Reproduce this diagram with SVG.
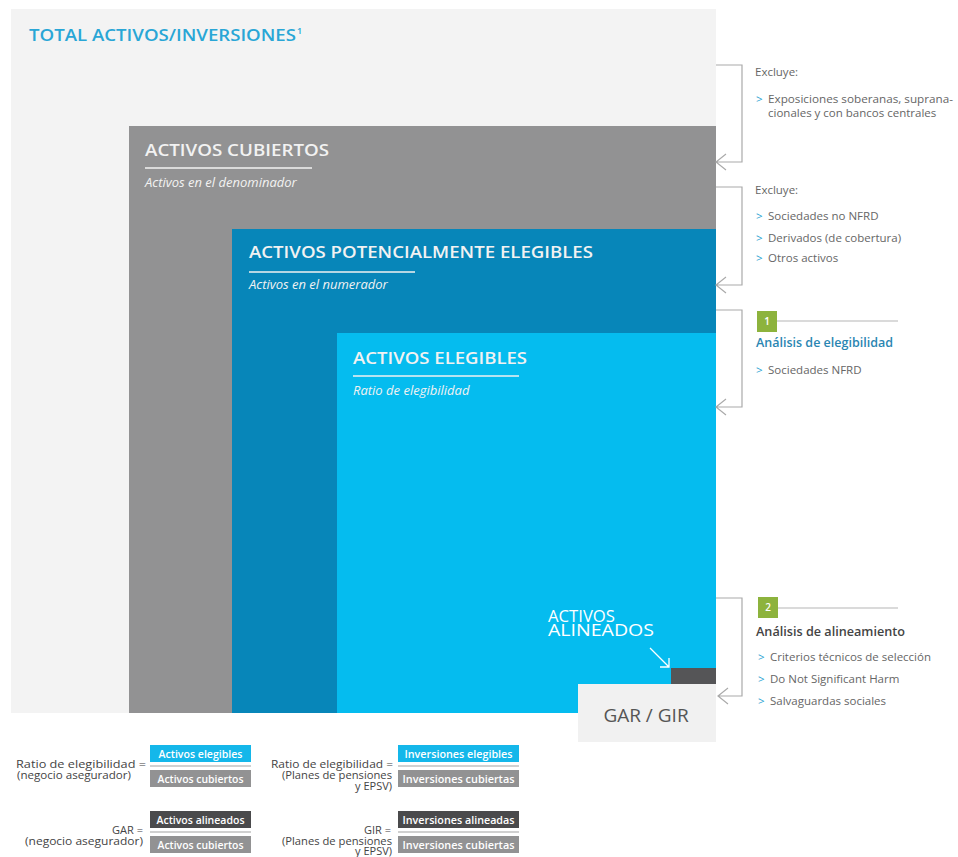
<svg xmlns="http://www.w3.org/2000/svg" width="958" height="857" viewBox="0 0 958 857">
<style>
.hd{font-family:"Open Sans","Noto Sans",sans-serif;font-weight:600;font-size:17px;fill:#f2f2f2}
.sub{font-family:"Open Sans","Noto Sans",sans-serif;font-style:italic;font-size:13px;fill:#f2f2f2}
.ul{stroke:#f2f2f2;stroke-width:1.5}
.rt{font-family:"Open Sans","Noto Sans",sans-serif;font-size:11.5px;fill:#666}
.gt{font-family:"Open Sans","Noto Sans",sans-serif;font-size:11.5px;fill:#2aa3d2}
.br{fill:none;stroke:#aaaaaa;stroke-width:1.2}
.ft{font-family:"Open Sans","Noto Sans",sans-serif;font-size:11px;fill:#444;text-anchor:end}
.bt{font-family:"Open Sans","Noto Sans",sans-serif;font-size:11px;font-weight:600;fill:#fff;text-anchor:middle}
</style>
<rect width="958" height="857" fill="#ffffff"/>
<g id="total">
<rect x="11" y="9" width="705" height="704" fill="#f3f3f3"/>
<text x="29" y="41" font-family="'Open Sans','Noto Sans',sans-serif" font-size="17" font-weight="600" fill="#29a6d6" textLength="267" lengthAdjust="spacingAndGlyphs">TOTAL ACTIVOS/INVERSIONES</text>
<text x="297" y="34" font-family="'Open Sans','Noto Sans',sans-serif" font-size="9" font-weight="600" fill="#29a6d6">1</text>
</g>
<g id="cubiertos">
<rect x="129" y="126" width="587" height="587" fill="#929293"/>
<text class="hd" x="145" y="156" textLength="184" lengthAdjust="spacingAndGlyphs">ACTIVOS CUBIERTOS</text>
<line class="ul" x1="145" y1="168" x2="312" y2="168"/>
<text class="sub" x="145" y="187">Activos en el denominador</text>
</g>
<g id="potenciales">
<rect x="232" y="229" width="484" height="484" fill="#0786b9"/>
<text class="hd" x="249" y="258" textLength="344" lengthAdjust="spacingAndGlyphs">ACTIVOS POTENCIALMENTE ELEGIBLES</text>
<line class="ul" x1="249" y1="272" x2="415" y2="272"/>
<text class="sub" x="249" y="289">Activos en el numerador</text>
</g>
<g id="elegibles">
<rect x="337" y="333" width="379" height="380" fill="#05bcef"/>
<text class="hd" x="353" y="364" textLength="174" lengthAdjust="spacingAndGlyphs">ACTIVOS ELEGIBLES</text>
<line class="ul" x1="353" y1="376" x2="519" y2="376"/>
<text class="sub" x="353" y="395">Ratio de elegibilidad</text>
</g>
<g id="alineados">
<text font-family="'Open Sans','Noto Sans',sans-serif" font-size="17" fill="#ffffff"><tspan x="548" y="622" textLength="67" lengthAdjust="spacingAndGlyphs">ACTIVOS</tspan><tspan x="548" y="636" textLength="106" lengthAdjust="spacingAndGlyphs">ALINEADOS</tspan></text>
<rect x="671" y="668" width="45" height="16" fill="#555557"/>
</g>
<g id="gar">
<rect x="578" y="684" width="138" height="58" fill="#f1f1f1"/>
<text x="646" y="722" font-family="'Open Sans','Noto Sans',sans-serif" font-size="19" fill="#555" text-anchor="middle">GAR / GIR</text>
</g>
<g id="connectors">
<path class="br" d="M716,65 H742 V162 H716 M726,154 L716,162 L726,170"/>
<path class="br" d="M716,187 H742 V285 H716 M726,277 L716,285 L726,293"/>
<path class="br" d="M716,310 H742 V407 H716 M726,399 L716,407 L726,415"/>
<path class="br" d="M716,598 H742 V696 H718 M728,688 L718,696 L728,704"/>
<path d="M650,648 L669,667 M669,658 L669,667 L660,667" fill="none" stroke="#ffffff" stroke-width="1.3"/>
<line x1="777" y1="321" x2="898" y2="321" stroke="#b5b5b5" stroke-width="1.2"/>
<line x1="778" y1="608" x2="898" y2="608" stroke="#b5b5b5" stroke-width="1.2"/>
</g>
<g id="excluye1">
<text class="rt" x="755" y="76" fill="#777">Excluye:</text>
<text class="gt" x="756" y="103">&gt;</text>
<text class="rt" x="768" y="103" textLength="185" lengthAdjust="spacingAndGlyphs">Exposiciones soberanas, suprana-</text>
<text class="rt" x="768" y="117">cionales y con bancos centrales</text>
</g>
<g id="excluye2">
<text class="rt" x="755" y="194" fill="#777">Excluye:</text>
<text class="gt" x="756" y="220">&gt;</text><text class="rt" x="768" y="220">Sociedades no NFRD</text>
<text class="gt" x="756" y="242">&gt;</text><text class="rt" x="768" y="242">Derivados (de cobertura)</text>
<text class="gt" x="756" y="262">&gt;</text><text class="rt" x="768" y="262">Otros activos</text>
</g>
<g id="paso1">
<rect x="757" y="311" width="20" height="21" fill="#8db33d"/>
<text x="767" y="325" font-family="'Open Sans','Noto Sans',sans-serif" font-size="10" font-weight="600" fill="#fff" text-anchor="middle">1</text>
<text x="756" y="347" font-family="'Open Sans','Noto Sans',sans-serif" font-size="12.5" font-weight="600" fill="#2a86b2" textLength="137" lengthAdjust="spacingAndGlyphs">Análisis de elegibilidad</text>
<text class="gt" x="756" y="374">&gt;</text><text class="rt" x="768" y="374">Sociedades NFRD</text>
</g>
<g id="paso2">
<rect x="758" y="597" width="20" height="21" fill="#8db33d"/>
<text x="768" y="611" font-family="'Open Sans','Noto Sans',sans-serif" font-size="10" font-weight="600" fill="#fff" text-anchor="middle">2</text>
<text x="756" y="636" font-family="'Open Sans','Noto Sans',sans-serif" font-size="12.5" font-weight="600" fill="#444" textLength="149" lengthAdjust="spacingAndGlyphs">Análisis de alineamiento</text>
<text class="gt" x="758" y="661">&gt;</text><text class="rt" x="770" y="661">Criterios técnicos de selección</text>
<text class="gt" x="758" y="683">&gt;</text><text class="rt" x="770" y="683">Do Not Significant Harm</text>
<text class="gt" x="758" y="705">&gt;</text><text class="rt" x="770" y="705">Salvaguardas sociales</text>
</g>
<g id="formula1">
<text class="ft"><tspan x="146" y="768" textLength="130" lengthAdjust="spacingAndGlyphs">Ratio de elegibilidad  =</tspan><tspan x="131" y="779" textLength="114" lengthAdjust="spacingAndGlyphs">(negocio asegurador)</tspan></text>
<rect x="150" y="745" width="101" height="17" fill="#14b7ea"/>
<text class="bt" x="200.5" y="757.5" textLength="84" lengthAdjust="spacingAndGlyphs">Activos elegibles</text>
<line x1="150" y1="766" x2="251" y2="766" stroke="#d0d0d0" stroke-width="2"/>
<rect x="150" y="770" width="101" height="17" fill="#929293"/>
<text class="bt" x="200.5" y="782.5" textLength="86" lengthAdjust="spacingAndGlyphs">Activos cubiertos</text>
</g>
<g id="formula2">
<text class="ft"><tspan x="393" y="768" textLength="122" lengthAdjust="spacingAndGlyphs">Ratio de elegibilidad =</tspan><tspan x="392" y="779" textLength="110" lengthAdjust="spacingAndGlyphs">(Planes de pensiones</tspan><tspan x="392" y="790">y EPSV)</tspan></text>
<rect x="398" y="745" width="121" height="17" fill="#14b7ea"/>
<text class="bt" x="458.5" y="757.5" textLength="108" lengthAdjust="spacingAndGlyphs">Inversiones elegibles</text>
<line x1="398" y1="766" x2="519" y2="766" stroke="#d0d0d0" stroke-width="2"/>
<rect x="398" y="770" width="121" height="17" fill="#929293"/>
<text class="bt" x="458.5" y="782.5" textLength="112" lengthAdjust="spacingAndGlyphs">Inversiones cubiertas</text>
</g>
<g id="formula3">
<text class="ft"><tspan x="143" y="834">GAR =</tspan><tspan x="143" y="845" textLength="118" lengthAdjust="spacingAndGlyphs">(negocio asegurador)</tspan></text>
<rect x="150" y="811" width="101" height="17" fill="#4a4a4c"/>
<text class="bt" x="200.5" y="823.5" textLength="88" lengthAdjust="spacingAndGlyphs">Activos alineados</text>
<line x1="150" y1="832" x2="251" y2="832" stroke="#d0d0d0" stroke-width="2"/>
<rect x="150" y="836" width="101" height="17" fill="#929293"/>
<text class="bt" x="200.5" y="848.5" textLength="86" lengthAdjust="spacingAndGlyphs">Activos cubiertos</text>
</g>
<g id="formula4">
<text class="ft"><tspan x="391" y="834">GIR =</tspan><tspan x="392" y="845" textLength="110" lengthAdjust="spacingAndGlyphs">(Planes de pensiones</tspan><tspan x="392" y="855">y EPSV)</tspan></text>
<rect x="398" y="811" width="121" height="17" fill="#4a4a4c"/>
<text class="bt" x="458.5" y="823.5" textLength="112" lengthAdjust="spacingAndGlyphs">Inversiones alineadas</text>
<line x1="398" y1="832" x2="519" y2="832" stroke="#d0d0d0" stroke-width="2"/>
<rect x="398" y="836" width="121" height="17" fill="#929293"/>
<text class="bt" x="458.5" y="848.5" textLength="112" lengthAdjust="spacingAndGlyphs">Inversiones cubiertas</text>
</g>
</svg>
